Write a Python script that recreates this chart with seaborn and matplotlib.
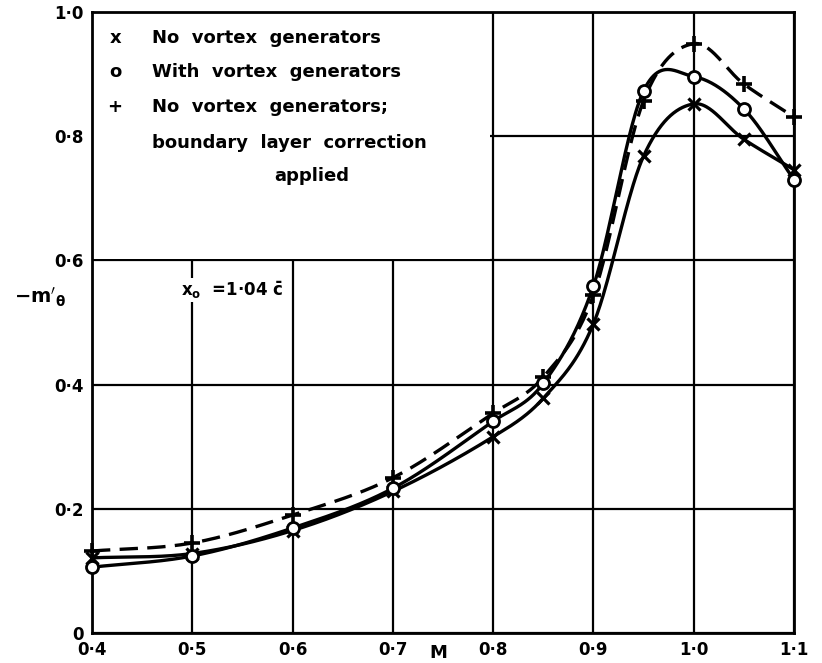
import numpy as np
import pandas as pd
import matplotlib
matplotlib.use("Agg")
import matplotlib.pyplot as plt
import seaborn as sns
from matplotlib.patches import Rectangle

# ---- data ----
mach = [0.4, 0.5, 0.6, 0.7, 0.8, 0.85, 0.9, 0.95, 1.0, 1.05, 1.1]
no_vg = [0.121, 0.128, 0.165, 0.228, 0.316, 0.378, 0.498, 0.768, 0.852, 0.795, 0.746]
with_vg = [0.106, 0.124, 0.169, 0.233, 0.341, 0.402, 0.559, 0.873, 0.896, 0.844, 0.730]
no_vg_corr = [0.132, 0.145, 0.190, 0.250, 0.354, 0.412, 0.544, 0.857, 0.949, 0.884, 0.831]

x_ticks = [0.4, 0.5, 0.6, 0.7, 0.8, 0.9, 1.0, 1.1]
x_ticklabels = ["0·4", "0·5", "0·6", "0·7", "0·8", "0·9", "1·0", "1·1"]
y_ticks = [0.0, 0.2, 0.4, 0.6, 0.8, 1.0]
y_ticklabels = ["0", "0·2", "0·4", "0·6", "0·8", "1·0"]


def faired(x, y, xs):
    """Catmull-Rom style Hermite curve through the points (draws the faired line)."""
    x = np.asarray(x, float)
    y = np.asarray(y, float)
    n = len(x)
    m = np.zeros(n)
    m[0] = (y[1] - y[0]) / (x[1] - x[0])
    m[-1] = (y[-1] - y[-2]) / (x[-1] - x[-2])
    for k in range(1, n - 1):
        m[k] = (y[k + 1] - y[k - 1]) / (x[k + 1] - x[k - 1])
    h = np.diff(x)
    idx = np.clip(np.searchsorted(x, xs) - 1, 0, n - 2)
    out = np.empty_like(xs)
    for j, xv in enumerate(xs):
        k = idx[j]
        t = (xv - x[k]) / h[k]
        h00 = 2 * t**3 - 3 * t**2 + 1
        h10 = t**3 - 2 * t**2 + t
        h01 = -2 * t**3 + 3 * t**2
        h11 = t**3 - t**2
        out[j] = h00 * y[k] + h10 * h[k] * m[k] + h01 * y[k + 1] + h11 * h[k] * m[k + 1]
    return out


sns.set_style("white")
plt.rcParams["font.family"] = ["DejaVu Sans"]
plt.rcParams["font.weight"] = "bold"
plt.rcParams["mathtext.default"] = "bf"
for key in ["text.color", "axes.labelcolor", "xtick.color", "ytick.color"]:
    plt.rcParams[key] = "black"

fig = plt.figure(figsize=(8.22, 6.63), dpi=100)
ax = fig.add_axes([92 / 822, 1 - 633 / 663, (794 - 92) / 822, (633 - 12) / 663])

xs = np.linspace(0.4, 1.1, 700)
curves = pd.DataFrame({
    "M": np.concatenate([xs, xs, xs]),
    "val": np.concatenate([faired(mach, no_vg, xs), faired(mach, with_vg, xs),
                           faired(mach, no_vg_corr, xs)]),
    "series": ["no"] * len(xs) + ["with"] * len(xs) + ["corr"] * len(xs),
})

lw = 2.4
sns.lineplot(data=curves[curves.series == "no"], x="M", y="val", color="black",
             lw=lw, ax=ax, zorder=3)
sns.lineplot(data=curves[curves.series == "with"], x="M", y="val", color="black",
             lw=lw, ax=ax, zorder=3)
sns.lineplot(data=curves[curves.series == "corr"], x="M", y="val", color="black",
             lw=lw, ax=ax, zorder=3)
ax.lines[-1].set_dashes([5.5, 2.8])

pts = pd.DataFrame({"M": mach, "no": no_vg, "with": with_vg, "corr": no_vg_corr})
sns.scatterplot(data=pts, x="M", y="no", marker="x", s=75, color="black",
                linewidth=2.3, ax=ax, zorder=4, clip_on=False)
sns.scatterplot(data=pts, x="M", y="with", marker="o", s=75, facecolor="white",
                edgecolor="black", linewidth=2.0, ax=ax, zorder=5, clip_on=False)
sns.scatterplot(data=pts, x="M", y="corr", marker="+", s=130, color="black",
                linewidth=2.6, ax=ax, zorder=4, clip_on=False)

ax.set_xlim(0.4, 1.1)
ax.set_ylim(0.0, 1.0)
ax.set_xticks(x_ticks)
ax.set_xticklabels(x_ticklabels)
ax.set_yticks(y_ticks)
ax.set_yticklabels(y_ticklabels)
ax.tick_params(axis="both", labelsize=12, direction="in", length=6, width=1.6,
               colors="black", pad=6)
for lab in ax.get_xticklabels() + ax.get_yticklabels():
    lab.set_fontweight("bold")

ax.set_axisbelow(True)
ax.grid(True, color="black", lw=1.6)
for sp in ax.spines.values():
    sp.set_visible(True)
    sp.set_color("black")
    sp.set_linewidth(2.0)

# blank panel behind the key (gridlines hidden there)
ax.add_patch(Rectangle((0.4, 0.603), 0.397, 0.397, facecolor="white", edgecolor="none",
                       zorder=1))

ax.set_xlabel("")
ax.set_ylabel(r"$-m'_{\theta}$", rotation=0, fontsize=14, fontweight="bold",
              ha="center", va="center")
ax.yaxis.set_label_coords(-0.074, 0.54)
ax.annotate("M", xy=(0.745, 0.0), xytext=(0, -8), textcoords="offset points",
            ha="center", va="top", fontsize=13, fontweight="bold")

# key
key_syms = ["x", "o", "+"]
key_txt = ["No  vortex  generators", "With  vortex  generators",
           "No  vortex  generators;"]
key_y = [0.958, 0.903, 0.847]
for s, t, yy in zip(key_syms, key_txt, key_y):
    ax.text(0.423, yy, s, fontsize=13, fontweight="bold", ha="center", va="center",
            zorder=6)
    ax.text(0.460, yy, t, fontsize=13, fontweight="bold", ha="left", va="center",
            zorder=6)
ax.text(0.460, 0.789, "boundary  layer  correction", fontsize=13, fontweight="bold",
        ha="left", va="center", zorder=6)
ax.text(0.619, 0.736, "applied", fontsize=13, fontweight="bold", ha="center",
        va="center", zorder=6)

ax.text(0.489, 0.552, r"x$_{\mathbf{o}}$  =1·04 $\bar{\mathbf{c}}$", fontsize=12,
        fontweight="bold", ha="left", va="center", zorder=6,
        bbox=dict(facecolor="white", edgecolor="none", pad=1))

fig.savefig("out.png", dpi=100, facecolor="white")
